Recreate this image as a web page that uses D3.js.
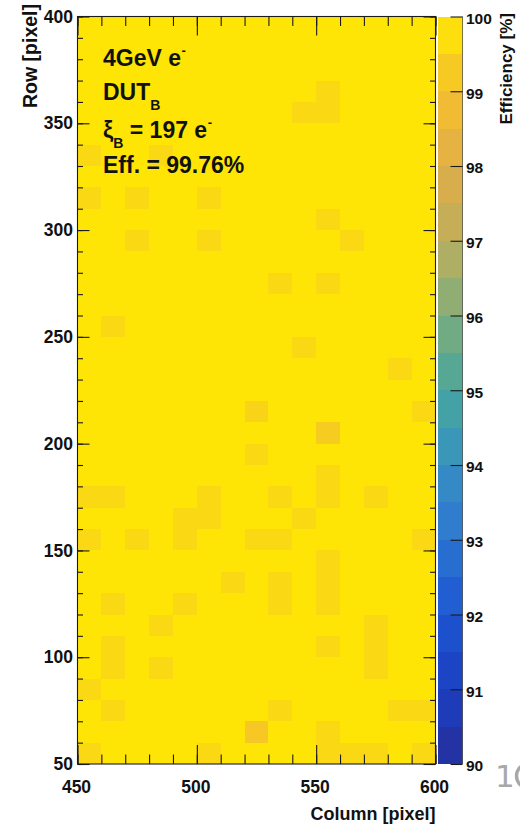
<!DOCTYPE html>
<html><head><meta charset="utf-8">
<script src="https://cdn.jsdelivr.net/npm/d3@7"></script>
<style>html,body{margin:0;padding:0;background:#fff;overflow:hidden}</style>
</head><body><svg id="c" width="520" height="825"></svg>
<script>
// ---- data ----
const colStarts = [450,460,470,480,490,500,510,520,530,540,550,560,570,580,590];
const rowStarts = [390,380,370,360,350,340,330,320,310,300,290,280,270,260,250,240,230,220,210,200,190,180,170,160,150,140,130,120,110,100,90,80,70,60,50];
// efficiency [%] per bin, rows top (390) to bottom (50), columns 450..590
const effMatrix = [
 [99.9,99.9,99.9,99.9,99.9,99.9,99.9,99.9,99.9,99.9,99.9,99.9,99.9,99.9,99.9], //390
 [99.9,99.9,99.9,99.9,99.9,99.9,99.9,99.9,99.9,99.9,99.9,99.9,99.9,99.9,99.9], //380
 [99.9,99.9,99.9,99.9,99.9,99.9,99.9,99.9,99.9,99.9,99.9,99.9,99.9,99.9,99.9], //370
 [99.9,99.9,99.9,99.9,99.9,99.9,99.9,99.9,99.9,99.9,99.6,99.9,99.9,99.9,99.9], //360
 [99.9,99.9,99.9,99.9,99.9,99.9,99.9,99.9,99.9,99.6,99.6,99.9,99.9,99.9,99.9], //350
 [99.9,99.9,99.9,99.9,99.9,99.9,99.9,99.9,99.9,99.9,99.9,99.9,99.9,99.9,99.9], //340
 [99.6,99.9,99.9,99.6,99.9,99.9,99.9,99.9,99.9,99.9,99.9,99.9,99.9,99.9,99.9], //330
 [99.9,99.9,99.9,99.9,99.9,99.9,99.9,99.9,99.9,99.9,99.9,99.9,99.9,99.9,99.9], //320
 [99.6,99.9,99.6,99.9,99.9,99.6,99.9,99.9,99.9,99.9,99.9,99.9,99.9,99.9,99.9], //310
 [99.9,99.9,99.9,99.9,99.9,99.9,99.9,99.9,99.9,99.9,99.6,99.9,99.9,99.9,99.9], //300
 [99.9,99.9,99.6,99.9,99.9,99.6,99.9,99.9,99.9,99.9,99.9,99.6,99.9,99.9,99.9], //290
 [99.9,99.9,99.9,99.9,99.9,99.9,99.9,99.9,99.9,99.9,99.9,99.9,99.9,99.9,99.9], //280
 [99.9,99.9,99.9,99.9,99.9,99.9,99.9,99.9,99.6,99.9,99.6,99.9,99.9,99.9,99.9], //270
 [99.9,99.9,99.9,99.9,99.9,99.9,99.9,99.9,99.9,99.9,99.9,99.9,99.9,99.9,99.9], //260
 [99.9,99.6,99.9,99.9,99.9,99.9,99.9,99.9,99.9,99.9,99.9,99.9,99.9,99.9,99.9], //250
 [99.9,99.9,99.9,99.9,99.9,99.9,99.9,99.9,99.9,99.6,99.9,99.9,99.9,99.9,99.9], //240
 [99.9,99.9,99.9,99.9,99.9,99.9,99.9,99.9,99.9,99.9,99.9,99.9,99.9,99.6,99.9], //230
 [99.9,99.9,99.9,99.9,99.9,99.9,99.9,99.9,99.9,99.9,99.9,99.9,99.9,99.9,99.9], //220
 [99.9,99.9,99.9,99.9,99.9,99.9,99.9,99.5,99.9,99.9,99.9,99.9,99.9,99.9,99.6], //210
 [99.9,99.9,99.9,99.9,99.9,99.9,99.9,99.9,99.9,99.9,99.3,99.9,99.9,99.9,99.9], //200
 [99.9,99.9,99.9,99.9,99.9,99.9,99.9,99.6,99.9,99.9,99.9,99.9,99.9,99.9,99.9], //190
 [99.9,99.9,99.9,99.9,99.9,99.9,99.9,99.9,99.9,99.9,99.6,99.9,99.9,99.9,99.9], //180
 [99.6,99.6,99.9,99.9,99.9,99.6,99.9,99.9,99.6,99.9,99.6,99.9,99.6,99.9,99.9], //170
 [99.9,99.9,99.9,99.9,99.6,99.6,99.9,99.9,99.9,99.6,99.9,99.9,99.9,99.9,99.9], //160
 [99.6,99.9,99.6,99.9,99.6,99.9,99.9,99.6,99.6,99.9,99.9,99.9,99.9,99.9,99.6], //150
 [99.9,99.9,99.9,99.9,99.9,99.9,99.9,99.9,99.9,99.9,99.6,99.9,99.9,99.9,99.9], //140
 [99.9,99.9,99.9,99.9,99.9,99.9,99.6,99.9,99.6,99.9,99.6,99.9,99.9,99.9,99.9], //130
 [99.9,99.6,99.9,99.9,99.6,99.9,99.9,99.9,99.6,99.9,99.6,99.9,99.9,99.9,99.9], //120
 [99.9,99.9,99.9,99.6,99.9,99.9,99.9,99.9,99.9,99.9,99.9,99.9,99.6,99.9,99.9], //110
 [99.9,99.6,99.9,99.9,99.9,99.9,99.9,99.9,99.9,99.9,99.6,99.9,99.6,99.9,99.9], //100
 [99.9,99.6,99.9,99.6,99.9,99.9,99.9,99.9,99.9,99.9,99.9,99.9,99.6,99.9,99.9], //90
 [99.6,99.9,99.9,99.9,99.9,99.9,99.9,99.9,99.9,99.9,99.9,99.9,99.9,99.9,99.9], //80
 [99.9,99.6,99.9,99.9,99.9,99.9,99.9,99.9,99.6,99.9,99.9,99.9,99.9,99.6,99.6], //70
 [99.9,99.9,99.9,99.9,99.9,99.9,99.9,99.2,99.9,99.9,99.6,99.9,99.9,99.9,99.9], //60
 [99.6,99.9,99.9,99.9,99.9,99.6,99.9,99.9,99.9,99.9,99.6,99.6,99.6,99.9,99.6]  //50
];
const binWidth = 10;
const xTickLabels = [450,500,550,600];
const yTickLabels = [50,100,150,200,250,300,350,400];
const zTickLabels = [90,91,92,93,94,95,96,97,98,99,100];
const zRange = [90,100];
const legendTexts = ["4GeV e","DUT","\u03BE","Eff. = 99.76%"];

// ---- palette (style) ----
const palStops = [90,90.5,91,91.5,92,92.5,93,93.5,94,94.5,95,95.5,96,96.5,97,97.5,98,98.5,99,99.5,100];
const palColors = ["#283098","#2036b0","#1c40c0","#1c4aca","#1e56d0","#2466d2","#2c76ce","#3284ca","#3890c0","#3e9eb0","#4aa69c","#62aa8c","#80ac7c","#a0ae6c","#bbae5e","#d0ad52","#e0af48","#ecb53a","#f5c12e","#f9d318","#ffea00"];
const color = d3.scaleLinear().domain(palStops).range(palColors).clamp(true);

const svg = d3.select("#c");
const L = 77.5, R = 435.5, T = 16.5, B = 764;
const x = d3.scaleLinear().domain([450,600]).range([L,R]);
const y = d3.scaleLinear().domain([50,400]).range([B,T]);
const z = d3.scaleLinear().domain(zRange).range([B,T]);
const FONT = "'Liberation Sans', Arial, Helvetica, sans-serif";
const ink = "#1a1a1a";

// cells
const cells = [];
rowStarts.forEach((r,i)=>colStarts.forEach((c,j)=>cells.push({c, r, v: effMatrix[i][j]})));
svg.append("g").selectAll("rect").data(cells).join("rect")
  .attr("x", d=>x(d.c)).attr("width", d=>x(d.c+binWidth)-x(d.c))
  .attr("y", d=>y(d.r+binWidth)).attr("height", d=>y(d.r)-y(d.r+binWidth))
  .attr("fill", d=>color(d.v)).attr("shape-rendering","crispEdges");

// axes ticks
function styleAxis(g){
  g.select(".domain").remove();
  g.selectAll(".tick line").attr("stroke", ink).attr("stroke-width",1.1);
  g.selectAll("text").attr("font-family",FONT).attr("font-weight","bold").attr("fill","#111");
}
// bottom
svg.append("g").attr("transform",`translate(0,${B})`)
  .call(d3.axisBottom(x).tickValues(x.ticks(15)).tickSize(-9.5).tickFormat("")).call(styleAxis);
svg.append("g").attr("transform",`translate(0,${B})`)
  .call(d3.axisBottom(x).tickValues(xTickLabels).tickSize(-19).tickPadding(17).tickFormat(d3.format("d")))
  .call(styleAxis).call(g=>g.selectAll("text").attr("font-size",17.5).attr("dx",-1.5));
// top
svg.append("g").attr("transform",`translate(0,${T})`)
  .call(d3.axisTop(x).tickValues(x.ticks(15)).tickSize(-9.5).tickFormat("")).call(styleAxis);
svg.append("g").attr("transform",`translate(0,${T})`)
  .call(d3.axisTop(x).tickValues(xTickLabels).tickSize(-19).tickFormat("")).call(styleAxis);
// left
svg.append("g").attr("transform",`translate(${L},0)`)
  .call(d3.axisLeft(y).tickValues(y.ticks(35)).tickSize(-5.5).tickFormat("")).call(styleAxis);
svg.append("g").attr("transform",`translate(${L},0)`)
  .call(d3.axisLeft(y).tickValues(yTickLabels).tickSize(-12).tickPadding(4.5).tickFormat(d3.format("d")))
  .call(styleAxis).call(g=>g.selectAll("text").attr("font-size",17.5));
// right
svg.append("g").attr("transform",`translate(${R},0)`)
  .call(d3.axisRight(y).tickValues(y.ticks(35)).tickSize(-5.5).tickFormat("")).call(styleAxis);
svg.append("g").attr("transform",`translate(${R},0)`)
  .call(d3.axisRight(y).tickValues(yTickLabels).tickSize(-12).tickFormat("")).call(styleAxis);

// frame
svg.append("rect").attr("x",L).attr("y",T).attr("width",R-L).attr("height",B-T)
  .attr("fill","none").attr("stroke",ink).attr("stroke-width",1.1);

// colorbar
const CL = 438, CR = 462.5;
const bands = d3.range(zRange[0], zRange[1], 0.5);
svg.append("g").selectAll("rect").data(bands).join("rect")
  .attr("x",CL).attr("width",CR-CL)
  .attr("y",d=>z(d+0.5)).attr("height",d=>z(d)-z(d+0.5))
  .attr("fill",d=>color(d+0.25)).attr("shape-rendering","crispEdges");
svg.append("line").attr("x1",CR).attr("x2",CR).attr("y1",T).attr("y2",B).attr("stroke","#555").attr("stroke-width",0.8);
svg.append("g").attr("transform",`translate(${CR},0)`)
  .call(d3.axisRight(z).tickValues(zTickLabels).tickSize(-12).tickPadding(3.5).tickFormat(d3.format("d")))
  .call(styleAxis).call(g=>g.selectAll("text").attr("font-size",15.5).attr("dy","0.45em"));

// axis titles
svg.append("text").attr("x",R).attr("y",820).attr("text-anchor","end")
  .attr("font-family",FONT).attr("font-weight","bold").attr("font-size",18).attr("fill","#111")
  .text("Column [pixel]");
svg.append("text").attr("transform","translate(36.5,4) rotate(-90)").attr("text-anchor","end")
  .attr("font-family",FONT).attr("font-weight","bold").attr("font-size",19.5).attr("fill","#111")
  .text("Row [pixel]");
svg.append("text").attr("transform","translate(512,13) rotate(-90)").attr("text-anchor","end")
  .attr("font-family",FONT).attr("font-weight","bold").attr("font-size",17).attr("fill","#111")
  .text("Efficiency [%]");

// legend text
const lg = svg.append("g").attr("font-family",FONT).attr("font-weight","bold").attr("font-size",23).attr("fill","#111");
const t1 = lg.append("text").attr("x",103).attr("y",66);
t1.append("tspan").text(legendTexts[0]);
t1.append("tspan").attr("font-size",13).attr("dy",-11).attr("dx",0.5).text("-");
const t2 = lg.append("text").attr("x",103).attr("y",100);
t2.append("tspan").text(legendTexts[1]);
t2.append("tspan").attr("font-size",14).attr("dy",10).text("B");
const t3 = lg.append("text").attr("x",103).attr("y",138);
t3.append("tspan").text(legendTexts[2]);
t3.append("tspan").attr("font-size",14).attr("dy",10).text("B");
t3.append("tspan").attr("dy",-10).text(" = 197 e");
t3.append("tspan").attr("font-size",13).attr("dy",-11).attr("dx",0.5).text("-");
lg.append("text").attr("x",103).attr("y",173).text(legendTexts[3]);

// stray page text at bottom right (a "1" and the edge of the next glyph, cut by the page)
svg.append("text").attr("x",495).attr("y",787).attr("font-family","'DejaVu Sans', sans-serif")
  .attr("font-size",31).attr("fill","#a8a8a8").text("1");
svg.append("ellipse").attr("cx",524).attr("cy",776).attr("rx",7.5).attr("ry",10)
  .attr("fill","none").attr("stroke","#a8a8a8").attr("stroke-width",3.5);
</script></body></html>
